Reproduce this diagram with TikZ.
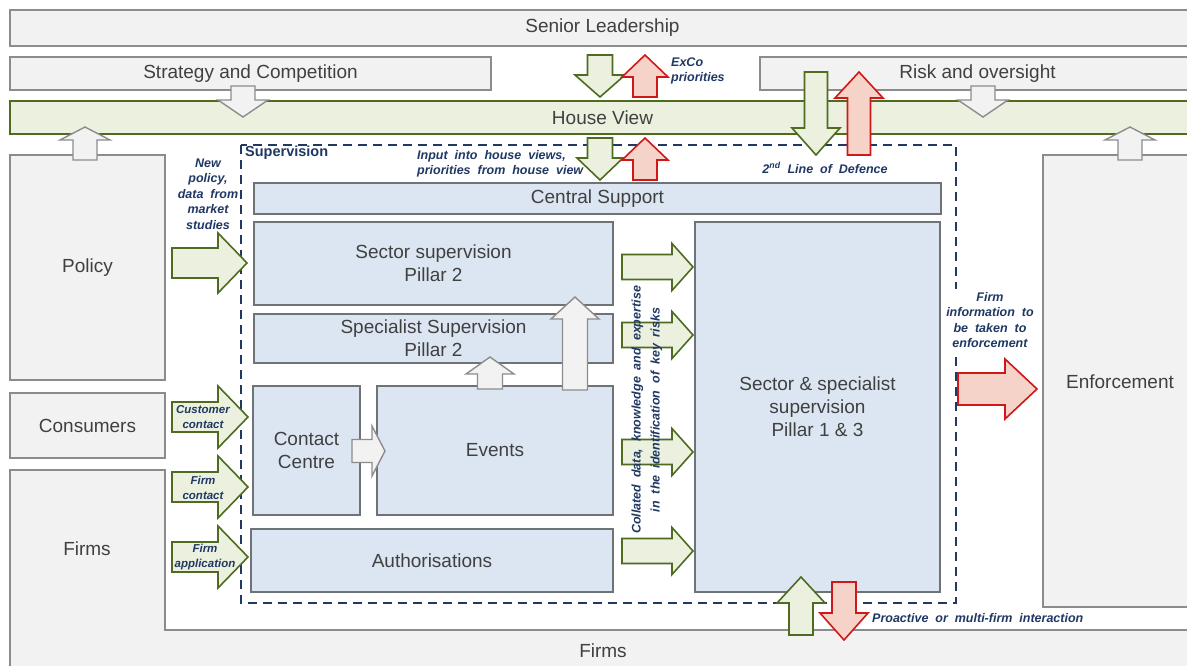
\documentclass[tikz,border=0pt]{standalone}
\usepackage{fontspec}
\setmainfont{Liberation Sans}
\newfontfamily\labfont[WordSpace=2]{Liberation Sans}
\definecolor{boxgray}{HTML}{F2F2F2}
\definecolor{bordgray}{HTML}{8C8C8C}
\definecolor{bluefill}{HTML}{DCE6F2}
\definecolor{blueedge}{HTML}{6E7378}
\definecolor{grfill}{HTML}{EBF1DE}
\definecolor{gredge}{HTML}{4F6B20}
\definecolor{rdfill}{HTML}{F6D3C8}
\definecolor{rdedge}{HTML}{D01818}
\definecolor{navy}{HTML}{1F3864}
\definecolor{txtgray}{HTML}{404040}
\newcommand\bx[7]{\node[#2, minimum width={(#5-#3)*1pt}, minimum height={(#6-#4)*1pt}] (#1) at ({(#3+#5)/2},{(#4+#6)/2}) {#7};}
\newcommand\blockarrow[8]{\draw[#1, shift={(#2,#3)}, rotate=#4] (0,-#6) -- ({#5-#8},-#6) -- ({#5-#8},-#7) -- (#5,0) -- ({#5-#8},#7) -- ({#5-#8},#6) -- (0,#6) -- cycle;}
\begin{document}
\begin{tikzpicture}[x=1pt,y=-1pt,
  bigtext/.style={font=\fontsize{19}{23}\selectfont, text=txtgray, align=center},
  gbox/.style={bigtext, fill=boxgray, draw=bordgray, line width=1.4pt, inner sep=0pt, outer sep=0pt},
  bbox/.style={bigtext, fill=bluefill, draw=blueedge, line width=1.4pt, inner sep=0pt, outer sep=0pt},
  hvbox/.style={bigtext, fill=grfill, draw=gredge, line width=1.8pt, inner sep=0pt, outer sep=0pt},
  garr/.style={fill=grfill, draw=gredge, line width=1.6pt, line join=miter},
  rarr/.style={fill=rdfill, draw=rdedge, line width=1.6pt, line join=miter},
  grarr/.style={fill=boxgray, draw=bordgray, line width=1.4pt, line join=miter},
  lab/.style={font=\labfont\fontsize{12.5}{15.5}\selectfont\bfseries\itshape, text=navy, inner sep=0pt},
  slab/.style={font=\labfont\fontsize{11.5}{15}\selectfont\bfseries\itshape, text=navy, inner sep=0pt, align=center},
  superv/.style={draw=navy, line width=1.8pt, dash pattern=on 9pt off 6pt}
]
\useasboundingbox (0,0) rectangle (1187,665);
\clip (0,0) rectangle (1187,665);
\fill[white] (0,0) rectangle (1187,665);

% outer boxes
\bx{senior}{gbox}{10}{10}{1195}{46}{Senior Leadership}
\bx{strategy}{gbox}{10}{57}{491}{90}{Strategy and Competition}
\bx{risk}{gbox}{760}{57}{1195}{90}{Risk and oversight}
\bx{policy}{gbox}{10}{155}{165}{380}{Policy}
\bx{consumers}{gbox}{10}{393}{165}{458}{Consumers}
\draw[gbox] (10,470) -- (165,470) -- (165,630) -- (1195,630) -- (1195,672) -- (10,672) -- cycle;
\node[bigtext] (firmsleft) at (87,549) {Firms};
\node[bigtext] (firmsbottom) at (603,651) {Firms};
\bx{enforcement}{gbox}{1043}{155}{1195}{607}{}
\node[bigtext] (enftext) at (1120,382) {Enforcement};

% supervision
\draw[superv] (241,145) rectangle (956,603);
\node[font=\fontsize{14.5}{17}\selectfont\bfseries, text=navy, anchor=west, inner sep=0pt] (suplab) at (245,153) {Supervision};
\bx{central}{bbox}{254}{183}{941}{214}{Central Support}
\bx{sector}{bbox}{254}{222}{613}{305}{Sector supervision\\Pillar 2}
\bx{specialist}{bbox}{254}{314}{613}{363}{Specialist Supervision\\Pillar 2}
\bx{contact}{bbox}{253}{386}{360}{515}{Contact\\Centre}
\bx{events}{bbox}{377}{386}{613}{515}{Events}
\bx{auth}{bbox}{251}{529}{613}{592}{Authorisations}
\bx{pillar}{bbox}{695}{222}{940}{592}{Sector \& specialist\\supervision\\Pillar 1 \& 3}

% house view
\bx{houseview}{hvbox}{10}{101}{1195}{134}{House View}

% gray arrows
\blockarrow{grarr}{243}{86}{-90}{31}{12}{25}{17}
\blockarrow{grarr}{983}{86}{-90}{31}{12}{25}{17}
\blockarrow{grarr}{85}{160}{90}{33}{12}{25}{13}
\blockarrow{grarr}{1130}{160}{90}{33}{12}{25}{13}
\blockarrow{grarr}{352}{451}{0}{33}{11.5}{25}{13}
\blockarrow{grarr}{490}{389}{90}{32}{12.5}{24}{17}
\blockarrow{grarr}{575}{390}{90}{93}{12.5}{24}{22}

% ExCo and house view arrows
\blockarrow{garr}{600}{55}{-90}{42}{12.5}{25}{22}
\blockarrow{rarr}{645}{97}{90}{42}{12}{23}{22}
\blockarrow{garr}{600}{138}{-90}{42}{12.5}{23}{22}
\blockarrow{rarr}{645}{180}{90}{42}{12}{23}{22}
\blockarrow{garr}{816}{72}{-90}{83}{11.5}{24}{27}
\blockarrow{rarr}{859}{155}{90}{83}{11.5}{24}{26}

% inputs from the left
\blockarrow{garr}{172}{263}{0}{75}{15}{30}{29}
\blockarrow{garr}{172}{417}{0}{76}{15}{31}{30}
\blockarrow{garr}{172}{487}{0}{76}{15}{31}{30}
\blockarrow{garr}{172}{557}{0}{76}{15}{31}{30}

% to pillar 1 & 3
\blockarrow{garr}{622}{267}{0}{71}{12.5}{23.5}{21}
\blockarrow{garr}{622}{335}{0}{71}{12.5}{23.5}{21}
\blockarrow{garr}{622}{452}{0}{71}{12.5}{23.5}{21}
\blockarrow{garr}{622}{551}{0}{71}{12.5}{23.5}{21}

% firm info label and enforcement arrow
\node[lab, align=center, fill=white, inner sep=3pt] (firminfo) at (990,320) {Firm\\information to\\be taken to\\enforcement};
\blockarrow{rarr}{958}{389}{0}{79}{16}{30}{32}

% bottom arrows
\blockarrow{garr}{801}{635}{90}{58}{12}{24}{26}
\blockarrow{rarr}{844}{582}{-90}{58}{12}{24}{27}

% labels
\node[lab, align=left, anchor=west] (exco) at (671,71) {ExCo\\priorities};
\node[lab, align=center] (newpol) at (208,194) {New\\policy,\\data from\\market\\studies};
\node[lab, align=left, anchor=west] (input) at (417,164) {Input into house views,\\priorities from house view};
\node[lab] (second) at (825,168) {2\textsuperscript{nd} Line of Defence};
\node[lab, anchor=west] (proactive) at (872,618) {Proactive or multi-firm interaction};
\node[lab, align=center, rotate=90, font=\labfont\fontsize{12.5}{19}\selectfont\bfseries\itshape] (collated) at (647,410) {Collated data, knowledge and expertise\\in the identification of key risks};
\node[slab] (custc) at (203,417) {Customer\\contact};
\node[slab] (firmc) at (203,488) {Firm\\contact};
\node[slab] (firma) at (205,557) {Firm\\application};
\end{tikzpicture}
\end{document}
